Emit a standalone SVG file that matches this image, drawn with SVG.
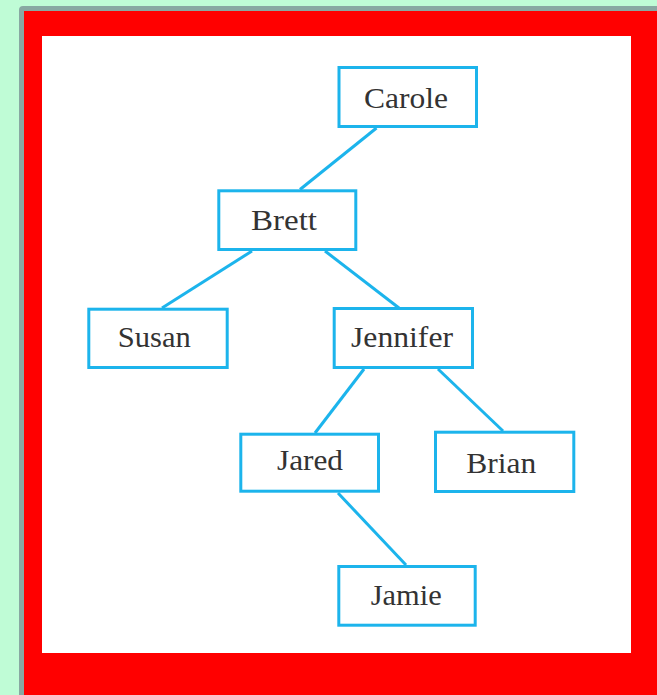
<svg xmlns="http://www.w3.org/2000/svg" width="657" height="695" viewBox="0 0 657 695">
  <style>
    .node rect { fill: #ffffff; stroke: #1cb4ec; stroke-width: 3; }
    .node text { font-family: "Liberation Serif", "Times New Roman", serif; font-size: 30px; fill: #333333; text-anchor: middle; }
    #connectors line { stroke: #1cb4ec; stroke-width: 3; stroke-linecap: butt; }
  </style>

  <!-- page background and frame -->
  <rect x="0" y="0" width="657" height="695" fill="#bffcd6"/>
  <rect x="19" y="6" width="650" height="700" rx="4" ry="4" fill="#88a8a2"/>
  <rect x="24" y="11" width="640" height="690" fill="#ff0000"/>
  <rect x="42" y="36" width="589" height="617" fill="#ffffff"/>

  <!-- tree edges -->
  <g id="connectors">
    <line x1="376.5" y1="128" x2="300" y2="189.5"/>
    <line x1="252" y1="251" x2="162" y2="308"/>
    <line x1="325" y1="251" x2="399" y2="308"/>
    <line x1="364" y1="369" x2="315" y2="433"/>
    <line x1="438" y1="369" x2="503" y2="431"/>
    <line x1="338" y1="493" x2="406" y2="565"/>
  </g>

  <g id="carole" class="node">
    <rect x="339" y="67.5" width="137.5" height="59"/>
    <text x="406" y="108" textLength="84" lengthAdjust="spacingAndGlyphs">Carole</text>
  </g>
  <g id="brett" class="node">
    <rect x="218.8" y="190.8" width="137" height="58.7"/>
    <text x="284" y="230" textLength="66" lengthAdjust="spacingAndGlyphs">Brett</text>
  </g>
  <g id="susan" class="node">
    <rect x="88.8" y="309.2" width="138.4" height="58.3"/>
    <text x="154.3" y="347" textLength="73" lengthAdjust="spacingAndGlyphs">Susan</text>
  </g>
  <g id="jennifer" class="node">
    <rect x="334.2" y="308.5" width="138.3" height="59"/>
    <text x="402" y="346.5" textLength="102" lengthAdjust="spacingAndGlyphs">Jennifer</text>
  </g>
  <g id="jared" class="node">
    <rect x="240.8" y="434.2" width="137.7" height="57"/>
    <text x="310" y="470" textLength="66" lengthAdjust="spacingAndGlyphs">Jared</text>
  </g>
  <g id="brian" class="node">
    <rect x="435.5" y="432.2" width="138.3" height="59.3"/>
    <text x="501.3" y="473" textLength="70" lengthAdjust="spacingAndGlyphs">Brian</text>
  </g>
  <g id="jamie" class="node">
    <rect x="338.8" y="566.5" width="136.4" height="58.7"/>
    <text x="406.2" y="605" textLength="71" lengthAdjust="spacingAndGlyphs">Jamie</text>
  </g>
</svg>
